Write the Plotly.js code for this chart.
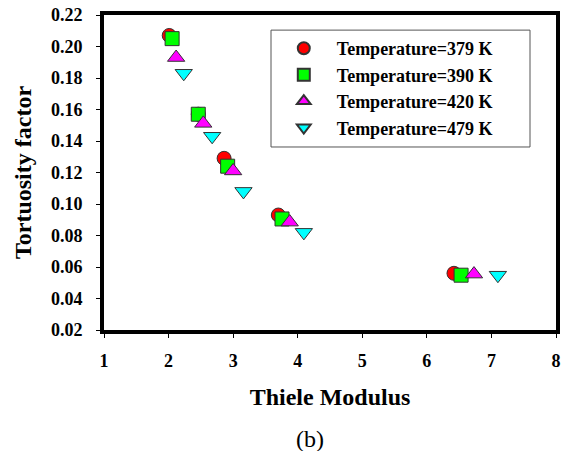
<!DOCTYPE html>
<html>
<head>
<meta charset="utf-8">
<script src="https://cdn.plot.ly/plotly-3.0.1.min.js"></script>
<style>html,body{margin:0;padding:0;background:#fff;}#chart{width:571px;height:451px;}</style>
</head>
<body>
<div id="chart"></div>
<script>
const seriesNames = ["Temperature=379 K", "Temperature=390 K", "Temperature=420 K", "Temperature=479 K"];
const x379 = [2.01, 2.46, 2.86, 3.70, 6.42];
const y379 = [0.207, 0.157, 0.129, 0.093, 0.056];
const x390 = [2.055, 2.46, 2.915, 3.757, 6.53];
const y390 = [0.205, 0.157, 0.124, 0.0905, 0.0548];
const x420 = [2.117, 2.537, 3.0, 3.876, 6.73];
const y420 = [0.193, 0.1512, 0.121, 0.0885, 0.0555];
const x479 = [2.235, 2.675, 3.16, 4.095, 7.10];
const y479 = [0.183, 0.143, 0.108, 0.082, 0.0548];
const xTicks = [1, 2, 3, 4, 5, 6, 7, 8];
const yTicks = [0.02, 0.04, 0.06, 0.08, 0.10, 0.12, 0.14, 0.16, 0.18, 0.20, 0.22];

const serif = "Liberation Serif, Times New Roman, serif";
const outline = {color: "#333333", width: 1};
function tr(x, y, name, symbol, color, size) {
  return {x: x, y: y, name: name, type: "scatter", mode: "markers",
    marker: {symbol: symbol, color: color, size: size, line: outline}};
}
const data = [
  tr(x379, y379, seriesNames[0], "circle", "#FF0000", 14),
  tr(x390, y390, seriesNames[1], "square", "#00FF00", 14),
  tr(x420, y420, seriesNames[2], "triangle-up", "#FF00FF", 15),
  tr(x479, y479, seriesNames[3], "triangle-down", "#00FFFF", 15)
];
const layout = {
  width: 571, height: 451,
  margin: {l: 104, r: 15, t: 15, b: 121},
  paper_bgcolor: "#fff", plot_bgcolor: "#fff",
  font: {family: serif, color: "#000"},
  showlegend: true,
  legend: {x: 0.369, y: 0.952, xanchor: "left", yanchor: "top",
    bgcolor: "rgba(0,0,0,0)", borderwidth: 0,
    font: {family: serif, size: 18, weight: "bold", color: "#000"},
    itemsizing: "constant", itemwidth: 56, tracegroupgap: 0},
  shapes: [{type: "rect", xref: "paper", yref: "paper", x0: 0.3695, x1: 0.9425, y0: 0.581, y1: 0.952,
    layer: "below", fillcolor: "#fff", line: {color: "#555", width: 1}}],
  xaxis: {range: [1, 8], tickvals: xTicks, ticktext: xTicks.map(String),
    showgrid: false, zeroline: false, showline: true, linecolor: "#000", linewidth: 4, mirror: true,
    ticks: "outside", ticklen: 4, tickwidth: 1, tickcolor: "#000", ticklabelstandoff: 7,
    tickfont: {family: serif, size: 18, weight: "bold"},
    title: {text: "Thiele Modulus", font: {family: serif, size: 24, weight: "bold"}, standoff: 20}},
  yaxis: {range: [0.02, 0.22], tickvals: yTicks, ticktext: yTicks.map(v => v.toFixed(2)),
    showgrid: false, zeroline: false, showline: true, linecolor: "#000", linewidth: 4, mirror: true,
    ticks: "outside", ticklen: 4, tickwidth: 1, tickcolor: "#000", ticklabelstandoff: 10,
    tickfont: {family: serif, size: 18, weight: "bold"},
    title: {text: "Tortuosity factor", font: {family: serif, size: 24, weight: "bold"}, standoff: 14}},
  annotations: [{text: "(b)", xref: "paper", yref: "paper", x: 0.455, y: -0.345, yanchor: "middle",
    showarrow: false, font: {family: serif, size: 24, color: "#000"}}]
};
Plotly.newPlot("chart", data, layout, {displayModeBar: false, staticPlot: true});
</script>
</body>
</html>
